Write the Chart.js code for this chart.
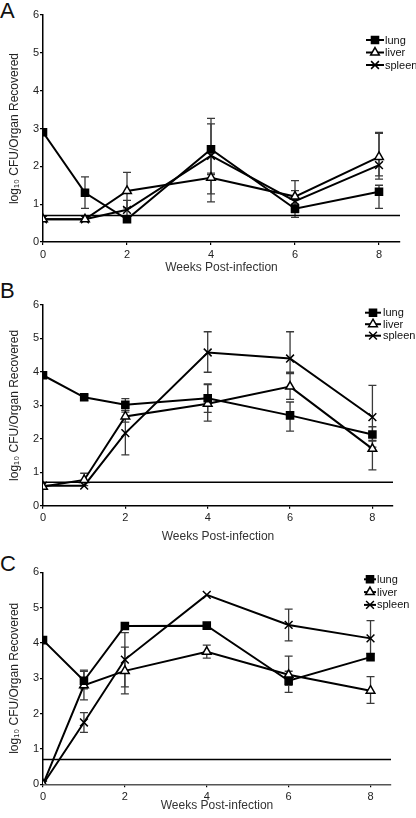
<!DOCTYPE html>
<html lang="en">
<head>
<meta charset="UTF-8" />
<title>CFU per organ over time</title>
<script src="https://cdn.jsdelivr.net/npm/chart.js"></script>
<style>
  body {
    margin: 0;
    width: 416px;
    height: 818px;
    position: relative;
    overflow: hidden;
    background: #fff;
    font-family: 'Liberation Sans', Arial, sans-serif;
  }
  canvas { position: absolute; left: 0; }
  .letter {
    position: absolute;
    left: 0;
    font-size: 22px;
    line-height: 1;
    color: #111;
  }
</style>
</head>
<body>
<div class="letter" style="top:0px">A</div>
<div class="letter" style="top:280px">B</div>
<div class="letter" style="top:553px">C</div>
<canvas id="chartA" width="416" height="276" style="top:0px"></canvas>
<canvas id="chartB" width="416" height="275" style="top:270px"></canvas>
<canvas id="chartC" width="416" height="274" style="top:540px"></canvas>

<script>
  // shared axes
  const WEEKS = [0, 1, 2, 4, 6, 8];
  const X_TICKS = [0, 2, 4, 6, 8];
  const X_MAX = 8.5;
  const LIMIT = 0.7;   // detection limit line

  // Panel A values (log10 CFU)
  const lungA   = [2.9, 1.3, 0.6, 2.45, 0.88, 1.33];
  const liverA  = [0.6, 0.6, 1.35, 1.7, 1.2, 2.25];
  const spleenA = [0.6, 0.6, 0.85, 2.28, 1.08, 2.03];
  // error bars [low, high]
  const lungErrA   = [null, [0.89, 1.72], null, [1.27, 3.27], [0.65, 1.0], [0.89, 1.5]];
  const liverErrA  = [null, null, [0.9, 1.84], [1.06, 1.78], [0.78, 1.62], [1.66, 2.9]];
  const spleenErrA = [null, null, [0.65, 1.1], [1.82, 3.12], [0.8, 1.36], [1.75, 2.87]];

  // Panel B
  const lungB   = [3.9, 3.24, 3.02, 3.21, 2.7, 2.13];
  const liverB  = [0.57, 0.77, 2.67, 3.05, 3.56, 1.7];
  const spleenB = [0.6, 0.6, 2.17, 4.58, 4.4, 2.65];
  const lungErrB   = [null, [3.15, 3.32], [2.85, 3.2], [2.79, 3.64], [2.23, 3.1], [1.93, 2.36]];
  const liverErrB  = [null, [0.6, 0.97], [2.5, 2.85], [2.53, 3.62], [3.18, 3.95], [1.07, 1.95]];
  const spleenErrB = [null, null, [1.52, 2.8], [3.99, 5.2], [3.99, 5.2], [1.75, 3.6]];

  // Panel C
  const lungC   = [4.08, 2.93, 4.48, 4.49, 2.93, 3.6];
  const liverC  = [0, 2.8, 3.21, 3.75, 3.1, 2.65];
  const spleenC = [0, 1.75, 3.53, 5.36, 4.51, 4.13];
  const lungErrC   = [null, [2.7, 3.23], null, null, [2.6, 3.2], null];
  const liverErrC  = [null, [2.39, 3.2], [2.56, 3.88], [3.57, 3.94], [2.8, 3.63], [2.29, 3.05]];
  const spleenErrC = [null, [1.47, 2.03], [2.76, 4.29], null, [4.06, 4.96], [3.7, 4.63]];

  const LABELS = ['lung', 'liver', 'spleen'];

  const FONT = "'Liberation Sans', Arial, sans-serif";
  Chart.defaults.font.family = FONT;

  const toPoints = vals => vals.map((v, i) => ({ x: WEEKS[i], y: v }));

  const STYLES = {
    lung:   { pointStyle: 'rect',     radius: 5,   fill: '#000' },
    liver:  { pointStyle: 'triangle', radius: 5,   fill: '#fff' },
    spleen: { pointStyle: 'crossRot', radius: 5.5, fill: '#000' }
  };

  function series(name, vals, errs) {
    const s = STYLES[name];
    return {
      label: name,
      data: toPoints(vals),
      errors: errs,
      borderColor: '#000',
      borderWidth: 2,
      pointStyle: s.pointStyle,
      pointRadius: s.radius,
      pointBackgroundColor: s.fill,
      pointBorderColor: '#000',
      pointBorderWidth: 1.5,
      tension: 0
    };
  }

  // error bars drawn from the dataset's errors through the chart scales
  const errorBars = {
    id: 'errorBars',
    beforeDatasetsDraw(chart) {
      const { ctx, scales: { x, y } } = chart;
      ctx.save();
      ctx.strokeStyle = '#3a3a3a';
      ctx.lineWidth = 1.3;
      chart.data.datasets.forEach(ds => {
        if (!ds.errors) return;
        ds.errors.forEach((e, i) => {
          if (!e) return;
          const px = x.getPixelForValue(WEEKS[i]);
          const lo = y.getPixelForValue(e[0]);
          const hi = y.getPixelForValue(e[1]);
          ctx.beginPath();
          ctx.moveTo(px, lo); ctx.lineTo(px, hi);
          ctx.moveTo(px - 4, lo); ctx.lineTo(px + 4, lo);
          ctx.moveTo(px - 4, hi); ctx.lineTo(px + 4, hi);
          ctx.stroke();
        });
      });
      ctx.restore();
    }
  };

  // small line + marker legend in the top right
  const organLegend = {
    id: 'organLegend',
    afterDraw(chart, args, opts) {
      const ctx = chart.ctx;
      ctx.save();
      ctx.font = '11px ' + FONT;
      ctx.textBaseline = 'middle';
      LABELS.forEach((name, i) => {
        const yy = opts.y + i * opts.gap;
        const s = STYLES[name];
        ctx.strokeStyle = '#000';
        ctx.lineWidth = 2;
        ctx.beginPath();
        ctx.moveTo(opts.x1, yy); ctx.lineTo(opts.x2, yy);
        ctx.stroke();
        ctx.fillStyle = s.fill;
        ctx.lineWidth = 1.5;
        Chart.helpers.drawPoint(ctx, { pointStyle: s.pointStyle, radius: s.radius, borderWidth: 1.5, rotation: 0 },
          (opts.x1 + opts.x2) / 2, yy);
        ctx.fillStyle = '#111';
        ctx.fillText(name, opts.tx, yy + 0.5);
      });
      ctx.restore();
    }
  };

  function makeChart(id, p) {
    new Chart(document.getElementById(id), {
      type: 'line',
      data: {
        datasets: [
          series('lung', p.lung, p.lungErr),
          series('liver', p.liver, p.liverErr),
          series('spleen', p.spleen, p.spleenErr),
          {
            label: 'limit',
            data: [{ x: 0, y: LIMIT }, { x: X_MAX, y: LIMIT }],
            borderColor: '#000',
            borderWidth: 1.5,
            pointRadius: 0
          }
        ]
      },
      options: {
        responsive: false,
        animation: false,
        layout: { padding: { top: p.areaTop, right: 416 - p.right, left: 0, bottom: 0 } },
        plugins: {
          legend: { display: false },
          tooltip: { enabled: false },
          organLegend: p.legend
        },
        scales: {
          x: {
            type: 'linear',
            min: 0,
            max: X_MAX,
            afterBuildTicks: s => { s.ticks = X_TICKS.map(v => ({ value: v })); },
            afterFit: s => { s.height = p.height - p.areaBottom; },
            grid: { drawOnChartArea: false, tickLength: 3, color: '#000', lineWidth: 1.2 },
            border: { color: p.xAxisColor || '#000', width: 1.5 },
            ticks: { padding: 3, maxRotation: 0, font: { size: 11 }, color: '#222' },
            title: {
              display: true,
              text: 'Weeks Post-infection',
              color: '#333',
              font: { size: 12, lineHeight: 1 },
              padding: { top: 0, bottom: 2 }
            }
          },
          y: {
            min: 0,
            max: 6,
            afterFit: s => { s.width = 43; },
            grid: { drawOnChartArea: false, tickLength: 3, color: '#000', lineWidth: 1.2 },
            border: { color: '#000', width: 1.5 },
            ticks: { stepSize: 1, padding: 1, font: { size: 11 }, color: '#222' },
            title: {
              display: true,
              text: 'log\u2081\u2080 CFU/Organ Recovered',
              color: '#222',
              font: { size: 12, lineHeight: 1 },
              padding: { top: 9, bottom: 0 }
            }
          }
        }
      },
      plugins: [errorBars, organLegend]
    });
  }

  makeChart('chartA', {
    lung: lungA, liver: liverA, spleen: spleenA,
    lungErr: lungErrA, liverErr: liverErrA, spleenErr: spleenErrA,
    height: 276, areaTop: 15, areaBottom: 242, right: 400,
    legend: { x1: 366, x2: 384, tx: 385, y: 40, gap: 12.5 }
  });

  makeChart('chartB', {
    lung: lungB, liver: liverB, spleen: spleenB,
    lungErr: lungErrB, liverErr: liverErrB, spleenErr: spleenErrB,
    height: 275, areaTop: 35, areaBottom: 235.7, right: 393,
    legend: { x1: 365, x2: 381, tx: 383, y: 42.7, gap: 11.5 }
  });

  makeChart('chartC', {
    lung: lungC, liver: liverC, spleen: spleenC,
    lungErr: lungErrC, liverErr: liverErrC, spleenErr: spleenErrC,
    height: 274, areaTop: 32.3, areaBottom: 244.3, right: 391,
    xAxisColor: '#555',
    legend: { x1: 364, x2: 376, tx: 377, y: 39.3, gap: 12.8 }
  });
</script>
</body>
</html>
